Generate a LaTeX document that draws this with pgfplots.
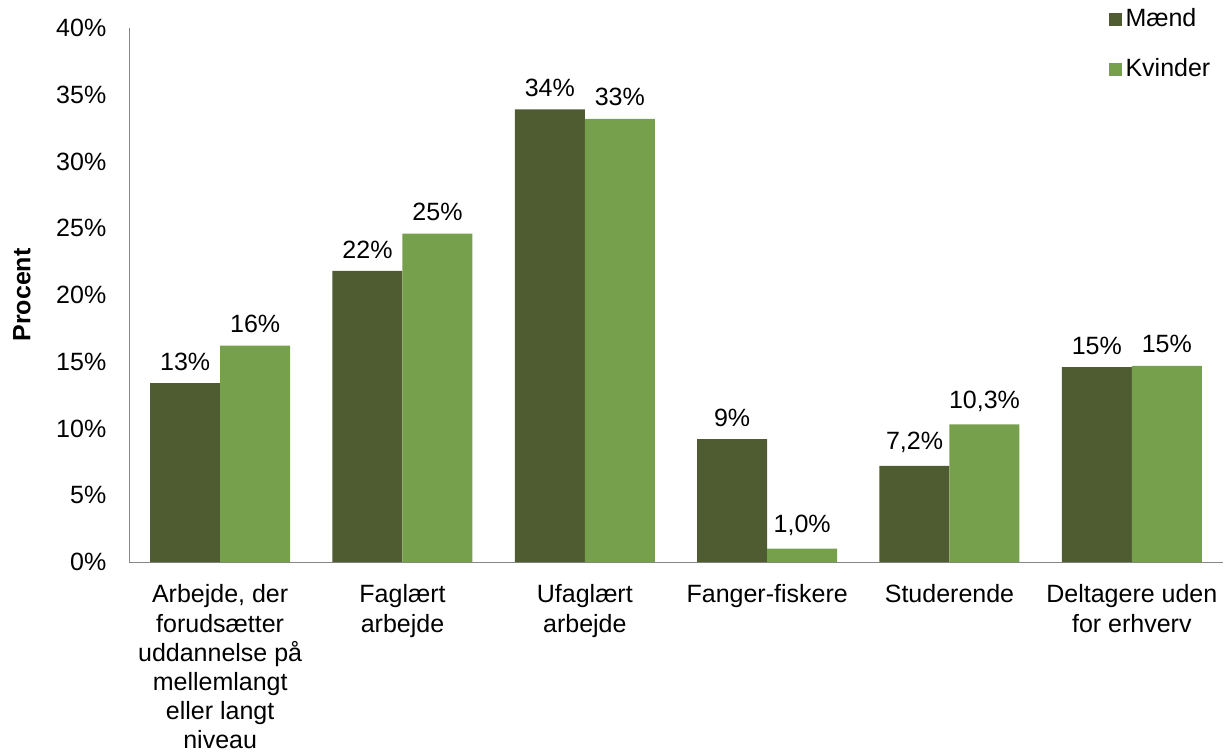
\documentclass[border=0pt]{standalone}
\usepackage{fontspec}
\setmainfont{Liberation Sans}
\usepackage{pgfplots}
\pgfplotsset{compat=1.18}
\definecolor{maend}{HTML}{4F5B31}
\definecolor{kvinder}{HTML}{77A04C}
\definecolor{axisgray}{HTML}{868686}

\begin{document}
\fontsize{12.5pt}{14.6pt}\selectfont
\begin{tikzpicture}[font=\fontsize{12.5pt}{14.6pt}\selectfont]
\begin{axis}[
  at={(0pt,0pt)}, anchor=south west,
  scale only axis,
  width=547pt, height=267pt,
  ybar=0pt,
  bar width=35pt,
  xmin=-0.5, xmax=5.5,
  ymin=0, ymax=40,
  ytick={0,5,...,40},
  yticklabel={\pgfmathprintnumber{\tick}\%},
  /pgf/number format/assume math mode=true,
  xtick=data,
  xticklabels={{Arbejde, der\\forudsætter\\uddannelse på\\mellemlangt\\eller langt\\niveau},
    {Faglært\\arbejde},{Ufaglært\\arbejde},{Fanger-fiskere},{Studerende},
    {Deltagere uden\\for erhverv}},
  xticklabel style={align=center, yshift=-7pt},
  yticklabel style={xshift=-7pt},
  major tick length=0pt,
  axis lines=left,
  axis line style={axisgray, -},
  ylabel={\textbf{Procent}},
  ylabel style={at={(rel axis cs:0,0.5)}, anchor=center, yshift=53.5pt},
  nodes near coords={\pgfplotspointmeta},
  point meta=explicit symbolic,
  every node near coord/.append style={yshift=2pt},
  legend style={at={(rel axis cs:0.895,1)}, yshift=12pt, anchor=north west, draw=none, fill=none,
    row sep=10pt, inner sep=0pt},
  legend cell align=left,
  legend image code/.code={\fill[#1] (0pt,-3.25pt) rectangle (6.5pt,3.25pt);},
]
\addplot[fill=maend, draw=none] coordinates {
  (0,13.4) [13\%] (1,21.8) [22\%] (2,33.9) [34\%] (3,9.2) [9\%] (4,7.2) [{7,2\%}] (5,14.6) [15\%]
};
\addplot[fill=kvinder, draw=none] coordinates {
  (0,16.2) [16\%] (1,24.6) [25\%] (2,33.2) [33\%] (3,1.0) [{1,0\%}] (4,10.3) [{10,3\%}] (5,14.7) [15\%]
};
\legend{Mænd, Kvinder}
\end{axis}
\pgfresetboundingbox
\path (-64.5pt,-96.5pt) rectangle (550.5pt,281pt);
\end{tikzpicture}
\end{document}
